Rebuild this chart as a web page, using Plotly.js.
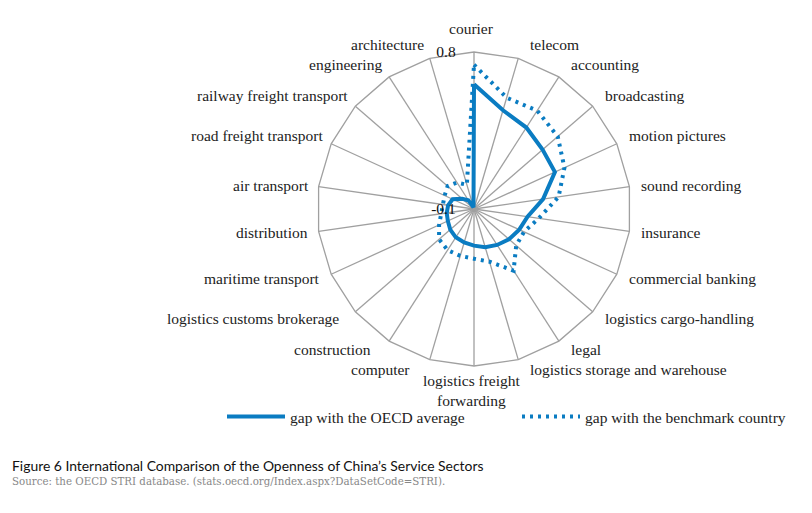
<!DOCTYPE html>
<html>
<head>
<meta charset="utf-8">
<script src="https://cdn.plot.ly/plotly-3.0.1.min.js"></script>
<style>html,body{margin:0;padding:0;background:#fff;}#chart{width:812px;height:513px;}</style>
</head>
<body>
<div id="chart"></div>
<script>
const categories = ["courier","telecom","accounting","broadcasting","motion pictures","sound recording","insurance","commercial banking","logistics cargo-handling","legal","logistics storage and warehouse","logistics freight<br>forwarding","computer","construction","logistics customs brokerage","maritime transport","distribution","air transport","road freight transport","railway freight transport","engineering","architecture"];
const gapOECD = [0.615,0.49,0.455,0.42,0.41,0.30,0.21,0.185,0.165,0.145,0.128,0.11,0.10,0.093,0.08,0.065,0.058,0.05,0.035,-0.01,-0.04,-0.09];
const gapBenchmark = [0.727,0.565,0.57,0.535,0.47,0.39,0.275,0.215,0.22,0.32,0.215,0.185,0.18,0.18,0.165,0.12,0.09,0.08,0.085,0.10,0.08,0.045];
const radialTicks = [-0.1, 0.8];
const seriesNames = ["gap with the OECD average","gap with the benchmark country"];

const closeLoop = a => a.concat([a[0]]);
const theta = closeLoop(categories);
const blue = '#0a7cc2';
const serif = 'Liberation Serif, Times New Roman, serif';

const traces = [
  {type:'scatterpolar', mode:'lines', name:seriesNames[0], r:closeLoop(gapOECD), theta:theta,
   line:{color:blue, width:4}, hoverinfo:'skip'},
  {type:'scatterpolar', mode:'lines', name:seriesNames[1], r:closeLoop(gapBenchmark), theta:theta,
   line:{color:blue, width:4, dash:'3px,5px'}, hoverinfo:'skip'}
];

const cx = 474, cy = 209, R = 157, W = 812, H = 513;

// category labels placed around the polygon (Excel-like placement)
const N = categories.length;
const catLabels = categories.map((c, i) => {
  const a = i * 2 * Math.PI / N;
  const dx = Math.sin(a), dy = -Math.cos(a);
  const vx = cx + R * dx, vy = cy + R * dy;
  let x, y, xanchor;
  if (Math.abs(dx) < 0.25) { xanchor = 'center'; x = vx - 2; y = vy + dy * 24; }
  else {
    xanchor = dx > 0 ? 'left' : 'right';
    x = vx + (dx > 0 ? 10 : -8 - dy * 4 - (dy > 0.5 ? 6 * dy : 0));
    y = vy + dy * 10 - (dy < -0.3 ? 4 : 0);
  }
  return {xref:'paper', yref:'paper', x:x / W, y:1 - y / H, xanchor:xanchor, yanchor:'middle',
          showarrow:false, text:c, font:{family:serif, size:15.5, color:'#222'}};
});

const layout = {
  width:W, height:H,
  margin:{l:0,r:0,t:0,b:0},
  paper_bgcolor:'#fff',
  showlegend:true,
  legend:{orientation:'h', x:0.2734, xanchor:'left', y:1-417/H, yanchor:'middle',
    font:{family:serif, size:15.5, color:'#222'}, itemwidth:58, entrywidth:222, traceorder:'normal'},
  polar:{
    domain:{x:[(cx-R)/W,(cx+R)/W], y:[(H-cy-R)/H,(H-cy+R)/H]},
    gridshape:'linear',
    bgcolor:'#fff',
    angularaxis:{rotation:90, direction:'clockwise', type:'category',
      showline:true, linecolor:'#a0a0a0', linewidth:1.3,
      showgrid:true, gridcolor:'#a0a0a0', gridwidth:1.3,
      ticks:'', showticklabels:false},
    radialaxis:{range:[-0.1,0.8], angle:90, tickangle:90, showline:false, showgrid:false,
      tickmode:'array', tickvals:radialTicks, ticktext:radialTicks.map(v=>String(v)+'\u00a0'.repeat(4)),
      ticks:'', tickfont:{family:serif, size:15.5, color:'#111'}, side:'counterclockwise'}
  },
  annotations:catLabels.concat([
    {xref:'paper', yref:'paper', x:10/W, y:1-465/H, xanchor:'left', yanchor:'middle', showarrow:false,
     text:"Figure 6 International Comparison of the Openness of China’s Service Sectors",
     font:{family:'Lato, Noto Sans, sans-serif', size:13.9, color:'#111'}},
    {xref:'paper', yref:'paper', x:10/W, y:1-481/H, xanchor:'left', yanchor:'middle', showarrow:false,
     text:"Source: the OECD STRI database. (stats.oecd.org/Index.aspx?DataSetCode=STRI).",
     font:{family:'DejaVu Serif, serif', size:10.25, color:'#888'}}
  ])
};
Plotly.newPlot('chart', traces, layout, {displayModeBar:false, staticPlot:true});
</script>
</body>
</html>
